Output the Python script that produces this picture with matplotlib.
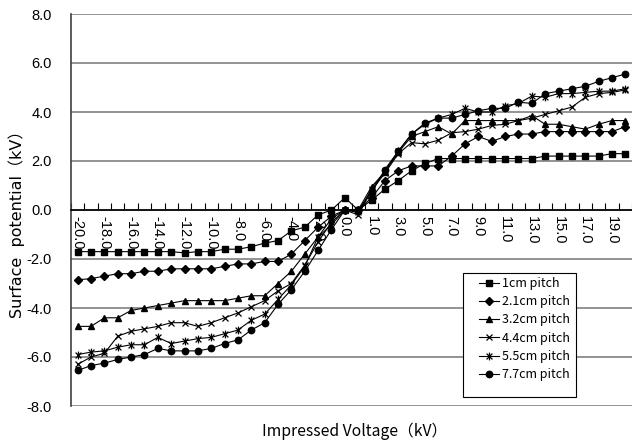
import matplotlib
matplotlib.use("Agg")
import matplotlib.pyplot as plt
from matplotlib.path import Path
from matplotlib.patches import Rectangle
import numpy as np

categories = [-20, -19, -18, -17, -16, -15, -14, -13, -12, -11, -10, -9, -8, -7, -6, -5, -4, -3, -2, -1,
              0, 0.5, 1, 2, 3, 4, 5, 6, 7, 8, 9, 10, 11, 12, 13, 14, 15, 16, 17, 18, 19, 20]

s_1cm = [-1.7, -1.7, -1.7, -1.7, -1.7, -1.7, -1.7, -1.7, -1.75, -1.7,
         -1.7, -1.6, -1.6, -1.5, -1.35, -1.25, -0.85, -0.7, -0.2, 0.0,
         0.5, 0.0, 0.4, 0.85, 1.2, 1.6, 1.9, 2.1, 2.1, 2.1,
         2.1, 2.1, 2.1, 2.1, 2.1, 2.2, 2.2, 2.2, 2.2, 2.2,
         2.3, 2.3]
s_21cm = [-2.85, -2.8, -2.7, -2.6, -2.6, -2.5, -2.5, -2.4, -2.4, -2.4,
          -2.4, -2.3, -2.2, -2.2, -2.1, -2.1, -1.8, -1.25, -0.7, -0.25,
          0.0, 0.0, 0.5, 1.2, 1.6, 1.8, 1.8, 1.8, 2.2, 2.7,
          3.0, 2.8, 3.0, 3.1, 3.1, 3.2, 3.2, 3.2, 3.2, 3.2,
          3.2, 3.4]
s_32cm = [-4.75, -4.75, -4.4, -4.4, -4.1, -4.0, -3.9, -3.8, -3.7, -3.7,
          -3.7, -3.7, -3.6, -3.5, -3.5, -3.0, -2.5, -1.8, -1.1, -0.35,
          0.0, 0.0, 0.95, 1.55, 2.35, 3.0, 3.2, 3.4, 3.1, 3.65,
          3.65, 3.65, 3.65, 3.65, 3.85, 3.5, 3.5, 3.4, 3.3, 3.5,
          3.65, 3.65]
s_44cm = [-6.3, -6.0, -5.85, -5.15, -4.95, -4.85, -4.75, -4.6, -4.6, -4.75,
          -4.6, -4.4, -4.2, -3.95, -3.7, -3.3, -3.0, -2.25, -1.3, -0.5,
          0.0, -0.2, 0.8, 1.5, 2.3, 2.75, 2.7, 2.85, 3.15, 3.2,
          3.3, 3.45, 3.5, 3.65, 3.75, 3.9, 4.05, 4.2, 4.6, 4.75,
          4.8, 4.9]
s_55cm = [-5.9, -5.8, -5.75, -5.6, -5.5, -5.5, -5.2, -5.45, -5.35, -5.25,
          -5.2, -5.05, -4.9, -4.5, -4.25, -3.65, -3.05, -2.3, -1.1, -0.6,
          0.0, -0.1, 0.85, 1.6, 2.4, 3.1, 3.5, 3.75, 3.9, 4.15,
          4.0, 4.0, 4.25, 4.35, 4.65, 4.6, 4.75, 4.75, 4.8, 4.85,
          4.85, 4.95]
s_77cm = [-6.55, -6.35, -6.25, -6.1, -6.0, -5.9, -5.65, -5.75, -5.75, -5.75,
          -5.65, -5.45, -5.3, -4.9, -4.6, -3.85, -3.25, -2.5, -1.65, -0.8,
          0.0, 0.0, 0.7, 1.65, 2.4, 3.1, 3.55, 3.75, 3.75, 3.9,
          4.05, 4.15, 4.15, 4.4, 4.35, 4.75, 4.85, 4.95, 5.05, 5.25,
          5.4, 5.55]

series_labels = ["1cm pitch", "2.1cm pitch", "3.2cm pitch", "4.4cm pitch", "5.5cm pitch", "7.7cm pitch"]
series_values = [s_1cm, s_21cm, s_32cm, s_44cm, s_55cm, s_77cm]
y_ticks = [-8, -6, -4, -2, 0, 2, 4, 6, 8]

star = Path([(0, -1), (0, 1), (-0.75, -0.75), (0.75, 0.75), (-0.75, 0.75), (0.75, -0.75)],
            [Path.MOVETO, Path.LINETO, Path.MOVETO, Path.LINETO, Path.MOVETO, Path.LINETO])
styles = [dict(marker='s', markersize=4.5),
          dict(marker='D', markersize=3.6),
          dict(marker='^', markersize=4.8),
          dict(marker='x', markersize=4.6, markeredgewidth=0.9),
          dict(marker=star, markersize=5.6, markeredgewidth=0.9),
          dict(marker='o', markersize=4.6)]

fig = plt.figure(figsize=(6.32, 4.41), dpi=100)
ax = fig.add_axes([71/632, 1-406/441, 1-71/632, (406-14)/441])

x = np.arange(len(categories))
handles = []
for vals, lab, st in zip(series_values, series_labels, styles):
    h, = ax.plot(x, vals, color='black', linewidth=0.8, markerfacecolor='black',
                 markeredgecolor='black', label=lab, zorder=3, **st)
    handles.append(h)

ax.set_xlim(-0.5, 41.18)
ax.set_ylim(-8, 8)
ax.set_yticks(y_ticks)
ax.set_yticklabels([f"{v:.1f}" for v in y_ticks], fontsize=10.5, family='Liberation Sans')
ax.tick_params(axis='y', length=0, pad=14)
ax.yaxis.grid(True, color='#808080', linewidth=1.2, zorder=0)
ax.set_axisbelow(True)

for s in ['top', 'right']:
    ax.spines[s].set_visible(False)
ax.spines['left'].set_color('#404040')
ax.spines['left'].set_linewidth(1.2)
ax.spines['bottom'].set_position(('data', 0))
ax.spines['bottom'].set_color('black')
ax.spines['bottom'].set_linewidth(1.2)

ax.set_xticks(np.arange(-0.5, 41.6, 1.0))
ax.set_xticklabels([])
ax.tick_params(axis='x', which='major', direction='in', length=5, width=0.8, color='black')
lab_idx = list(range(0, len(categories), 2))
ax.set_xticks(lab_idx, minor=True)
ax.set_xticklabels([f"{categories[i]:.1f}" for i in lab_idx], minor=True,
                   rotation=-90, fontsize=10.5, family='Liberation Sans')
ax.tick_params(axis='x', which='minor', length=0, pad=4)
for t in ax.xaxis.get_minorticklabels():
    t.set_verticalalignment('top')
    t.set_horizontalalignment('center')

fig.text(17/632, 1-220/441, "Surface  potential（kV）", rotation=90, ha='center', va='center',
         fontsize=11.5, family=['DejaVu Sans', 'Noto Sans CJK JP'])
fig.text(355/632, 1-431/441, "Impressed Voltage（kV）", ha='center', va='center',
         fontsize=11.3, family=['Noto Sans CJK JP', 'DejaVu Sans'])

# legend box
fig.patches.append(Rectangle((463/632, 1-397/441), (576-463)/632, (397-273)/441,
                             transform=fig.transFigure, facecolor='white', edgecolor='black',
                             linewidth=0.8, zorder=4))
leg = fig.legend(handles=handles, loc='upper left', bbox_to_anchor=(479/632, 1-277/441),
                 frameon=False,
                 prop={'family': ['Noto Sans CJK JP', 'DejaVu Sans'], 'size': 9},
                 handlelength=1.6, handletextpad=0.2, labelspacing=0.42, borderpad=0,
                 borderaxespad=0)
leg.set_zorder(5)

fig.savefig("out.png", dpi=100)
